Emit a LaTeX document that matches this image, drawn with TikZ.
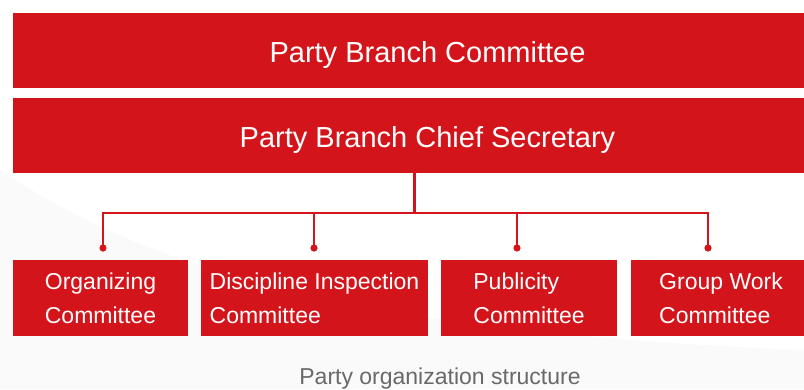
\documentclass[tikz,border=0pt]{standalone}
\usepackage{fontspec}
\setmainfont{Liberation Sans}
\definecolor{pred}{RGB}{211,21,27}
\definecolor{capgray}{RGB}{105,105,105}
\begin{document}
\begin{tikzpicture}[x=1pt,y=-1pt,
  bar/.style={fill=pred, text=white, inner sep=0pt, minimum width=829pt, minimum height=75pt,
    text height=23pt, text depth=0pt, font=\fontsize{29}{34}\selectfont},
  sub/.style={fill=pred, text=white, inner sep=0pt, minimum height=76pt, align=left,
    font=\fontsize{23}{34}\selectfont},
  conn/.style={draw=pred, line width=2.4pt},
  dot/.style={fill=pred}]
\clip (0,0) rectangle (804,389);
\fill[white] (0,0) rectangle (804,389);
% faint background wash
\fill[black!2] (0,170) .. controls (120,250) and (300,330) .. (804,350) -- (804,389) -- (0,389) -- cycle;
\fill[black!2] (0,200) .. controls (100,270) and (250,330) .. (600,389) -- (0,389) -- cycle;
\fill[black!2] (0,230) .. controls (60,280) and (160,340) .. (330,389) -- (0,389) -- cycle;

\node[bar] (top) at (427.5,50.5) {Party Branch Committee};
\node[bar] (sec) at (427.5,135.5) {Party Branch Chief Secretary};

\node[sub, minimum width=175pt] (org) at (100.5,298) {Organizing\\Committee};
\node[sub, minimum width=227pt] (dis) at (314.5,298) {Discipline Inspection\\Committee};
\node[sub, minimum width=176pt] (pub) at (529,298) {Publicity\\Committee};
\node[sub, minimum width=180pt] (grp) at (721,298) {Group Work\\Committee};

\coordinate (hub) at (414.3,213);
\coordinate (j1) at (103,213);
\coordinate (j2) at (314,213);
\coordinate (j3) at (517,213);
\coordinate (j4) at (708,213);
\coordinate (d1) at (103,248);
\coordinate (d2) at (314,248);
\coordinate (d3) at (517,248);
\coordinate (d4) at (708,248);

\draw[conn] (sec.south -| hub) -- (hub);
\draw[conn] (d1) -- (j1) -- (j4) -- (d4);
\draw[conn] (j2) -- (d2);
\draw[conn] (j3) -- (d3);
\foreach \d in {d1,d2,d3,d4} \fill[dot] (\d) circle (3.6pt);

\node[font=\fontsize{23}{28}\selectfont, text=capgray, anchor=base, inner sep=0pt] (cap) at (440,384) {Party organization structure};
\end{tikzpicture}
\end{document}
